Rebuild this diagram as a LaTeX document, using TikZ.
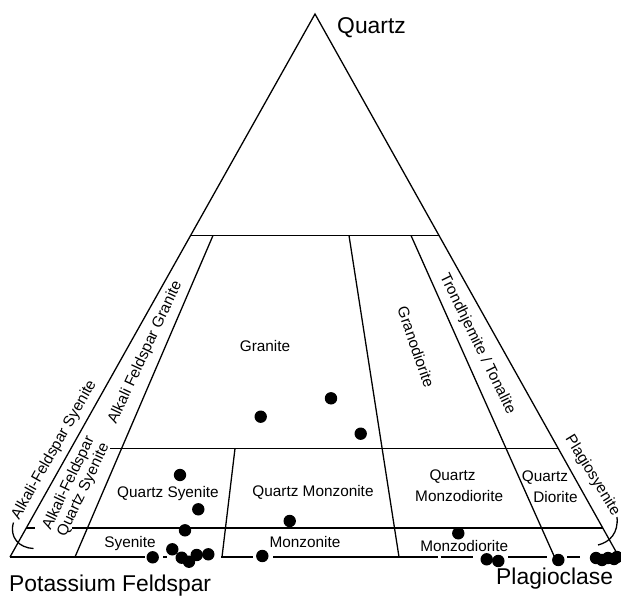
\documentclass[tikz,border=0pt]{standalone}
\usepackage{fontspec}
\setmainfont{Liberation Sans}
\usepackage{tikz}
\newcommand{\drawline}{\draw[line width=1.1pt]}
\newcommand{\rockdot}[2]{\fill (#1,#2) circle[radius=0.186cm];}
\newcommand{\fieldfont}{\fontsize{13.1}{17.9}\selectfont}
\newcommand{\cornerfont}{\fontsize{19.5}{23}\selectfont}
\tikzset{
  field/.style={font=\fieldfont, inner sep=0pt},
  corner/.style={font=\cornerfont, inner sep=0pt, anchor=base west},
}

\begin{document}
\begin{tikzpicture}[x=0.03cm,y=-0.03cm]
\useasboundingbox (0,0) rectangle (621,598);
\drawline (10,557)--(315,14)--(619,557);
% base line, broken at the dots
\drawline (10,557)--(145,557);\drawline (163,557)--(166.5,557);\drawline (221,557)--(253,557);
\drawline (273,557)--(438,557);\drawline (440.5,557)--(473,557);\drawline (508,557)--(547,557);
\drawline (567,557)--(580,557);
\drawline (190.6,235.5)--(439,235.5);
\drawline (110,448.5)--(558.3,448.5);
\drawline (26.3,528)--(35,528);\drawline (72,528)--(602.8,528);
\drawline (75,557)--(213,235.5);
\drawline (222,557)--(235,448.5);
\drawline (399,557)--(349,235.5);
\drawline (554.5,557)--(411,235.5);
\drawline (13.5,522.5) .. controls (9,537) and (19,548) .. (33.5,548.5);
\drawline (617,517) .. controls (618.5,533) and (610,542) .. (598,545);
\foreach \x/\y in {260.7/416.7,331/398.3,360.7/433.7,180/475,198.3/509.3,185/530.3,289.7/521,
  152.7/557.3,172.3/549.3,181.7/557.7,189/561.7,196.7/555,208.3/554.3,262.3/556,
  458.3/533.3,486.7/559.3,498.3/561,558.3/560,596/558,602/560,608/558,614/559,617/557}
  {\rockdot{\x}{\y}}
\node[corner] (qz) at (337,33.3) {Quartz};
\node[corner] (kfs) at (9,591.7) {Potassium Feldspar};
\node[corner] (plag) at (496,584.5) {Plagioclase};
\node[field, anchor=base] (gr) at (265,351.5) {Granite};
\node[field, anchor=base] (qsy) at (168,497) {Quartz Syenite};
\node[field, anchor=base] (sy) at (130,547.5) {Syenite};
\node[field, anchor=base] (qmz) at (313,496) {Quartz Monzonite};
\node[field, anchor=base] (mz) at (305,547) {Monzonite};
\node[field, anchor=base] (mzd) at (464.2,551) {Monzodiorite};
\node[field, anchor=base west, align=left] (qmzd) at (415,501) {\hspace*{0.93em}Quartz\\Monzodiorite};
\node[field, anchor=base west, align=left] (qd) at (521.7,502) {Quartz\\\hspace*{0.74em}Diorite};
\node[field, rotate=65] (afgr) at (145.3,352.7) {Alkali Feldspar Granite};
\node[field, rotate=60.5] (afsy) at (54.2,450) {Alkali-Feldspar Syenite};
\node[field, rotate=64.5, align=center, font=\fontsize{13.1}{14}\selectfont] (afqsy) at (76.3,486.7) {Alkali-Feldspar\\Quartz Syenite};
\node[field, rotate=-71] (grd) at (416,347) {Granodiorite};
\node[field, rotate=-64] (tt) at (477.3,344) {Trondhjemite / Tonalite};
\node[field, rotate=-58.5] (plsy) at (592.3,475.3) {Plagiosyenite};
\end{tikzpicture}
\end{document}
